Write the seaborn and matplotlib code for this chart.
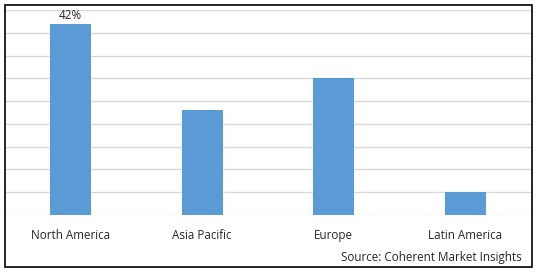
import matplotlib
matplotlib.use("Agg")
import matplotlib.pyplot as plt
import seaborn as sns
import pandas as pd
from matplotlib.patches import Rectangle

regions = ["North America", "Asia Pacific", "Europe", "Latin America"]
shares = [42, 23, 30, 5]
labels = ["42%", "", "", ""]
source = "Source: Coherent Market Insights"

sns.set_style("white")
plt.rcParams['font.family'] = ['Open Sans', 'DejaVu Sans']

df = pd.DataFrame({"region": regions, "share": shares})

fig = plt.figure(figsize=(5.38, 2.72), dpi=100)
ax = fig.add_axes([5/538, 57/272, 526/538, 205/272])
sns.barplot(data=df, x="region", y="share", color="#5B9BD5", saturation=1,
            width=0.31, ax=ax, zorder=3, linewidth=0)
ax.set_ylim(0, 45)
ax.set_xlim(-0.5, 3.5)
ax.set_yticks(range(0, 46, 5))
ax.set_yticklabels([])
ax.yaxis.grid(True, color="#D9D9D9", linewidth=1)
ax.set_axisbelow(True)
for s in ax.spines.values():
    s.set_visible(False)
ax.set_xlabel("")
ax.set_ylabel("")
ax.tick_params(axis="both", length=0)
ax.tick_params(axis="x", pad=10, labelsize=8.4, labelcolor="#262626")
for cont in ax.containers:
    ax.bar_label(cont, labels=labels, padding=1, fontsize=8.4, color="#262626")

fig.text(522/538, 1 - 258/272, source, ha="right", va="center", fontsize=8.4, color="#262626")
fig.patches.append(Rectangle((5/538, 5/272), 527/538, 262/272, transform=fig.transFigure,
                             fill=False, edgecolor="black", linewidth=1.2))
fig.savefig("out.png", dpi=100)
